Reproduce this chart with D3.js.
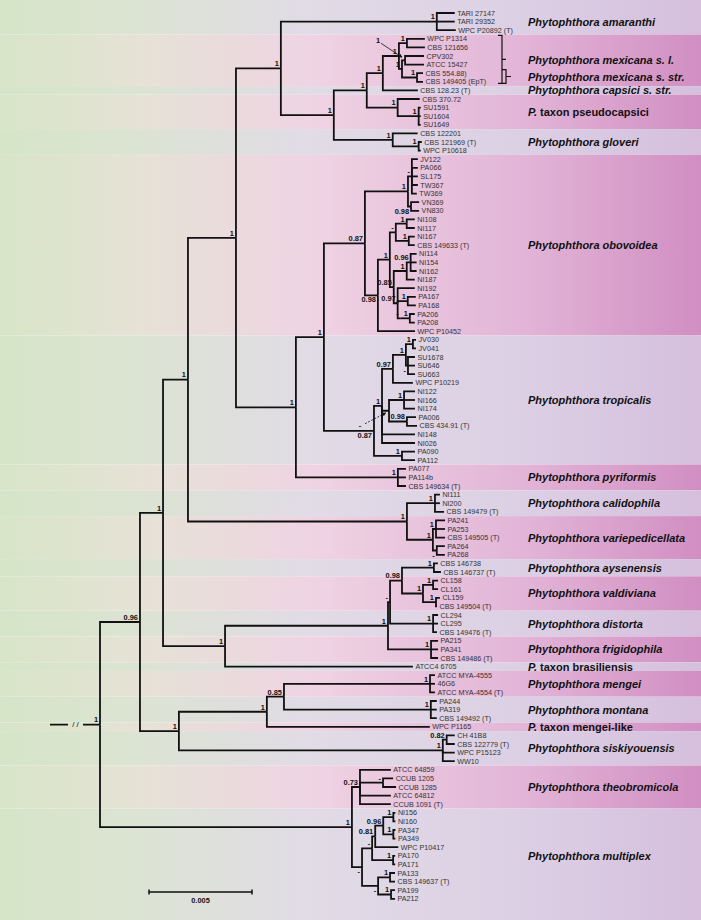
<!DOCTYPE html>
<html><head><meta charset="utf-8">
<script src="https://cdn.jsdelivr.net/npm/d3@7"></script>
<style>body{margin:0;background:#fff}svg{display:block}</style>
</head><body>
<svg id="chart" width="701" height="920"></svg>
<script>
// ---------------- DATA ----------------
// [node id, parent id, branch length (subst./site), posterior support]
const treeEdges = [
 ["R","",0,"1"],
 ["B","R",0.00194,"0.96"],
 ["C","B",0.00112,"1"],
 ["G","C",0.00121,"1"],
 ["H","G",0.00233,"1"],
 ["A","H",0.00218,"1"],
 ["AM","A",0.00757,"1"],
 ["TARI 27147","AM",0.00087,""],
 ["TARI 29352","AM",0.00087,""],
 ["WPC P20892 (T)","AM",0.00092,""],
 ["L","A",0.00257,"1"],
 ["N","L",0.0016,"1"],
 ["O","N",0.00078,"1"],
 ["P","O",0.00078,"1"],
 ["P1a","P",0.00039,"1"],
 ["WPC P1314","P1a",0.00087,""],
 ["CBS 121656","P1a",0.00087,""],
 ["X","P",0.00015,"1"],
 ["CA","X",0.00015,"1"],
 ["CPV302","CA",0.00092,""],
 ["ATCC 15427","CA",0.00092,""],
 ["P2","X",0.00073,"1"],
 ["CBS 554.88)","P2",0.00029,""],
 ["CBS 149405 (EpT)","P2",0.00029,""],
 ["CBS 128.23 (T)","O",0.0017,""],
 ["PS","N",0.0015,"1"],
 ["CBS 370.72","PS",0.00107,""],
 ["SUa","PS",0.00102,"1"],
 ["SU1591","SUa",0.0001,""],
 ["SU1604","SUa",0.0001,""],
 ["SU1649","SUa",0.0001,""],
 ["GL","L",0.00286,"1"],
 ["CBS 122201","GL",0.00121,""],
 ["GL2","GL",0.00126,"1"],
 ["CBS 121969 (T)","GL2",0.00015,""],
 ["WPC P10618","GL2",0.0001,""],
 ["I","H",0.00291,"1"],
 ["J","I",0.00136,"1"],
 ["K","J",0.00199,"0.87"],
 ["K1","K",0.00209,"1"],
 ["K1a","K1",0.00019,"-"],
 ["JV122","K1a",0.00029,""],
 ["PA066","K1a",0.00029,""],
 ["SL175","K1a",0.00029,""],
 ["TW367","K1a",0.00029,""],
 ["TW369","K1a",0.00024,""],
 ["K1b","K1",0.00015,"0.98"],
 ["VN369","K1b",0.00039,""],
 ["VN830","K1b",0.00039,""],
 ["K2","K",0.00063,"0.98"],
 ["K3","K2",0.00058,"1"],
 ["K3a","K3",0.00029,"-"],
 ["NA","K3a",0.00053,"1"],
 ["NI108","NA",0.00039,""],
 ["NI117","NA",0.00039,""],
 ["NB","K3a",0.00063,"1"],
 ["NI167","NB",0.00029,""],
 ["CBS 149633 (T)","NB",0.00029,""],
 ["K3b","K3",0.00019,"0.85"],
 ["K3b1","K3b",0.00063,"1"],
 ["NC","K3b1",0.00019,"0.96"],
 ["NI114","NC",0.00029,""],
 ["NI154","NC",0.00029,""],
 ["NI162","NC",0.00029,""],
 ["NI187","K3b1",0.00039,""],
 ["K3b2","K3b",0.00019,"0.97"],
 ["NI192","K3b2",0.00083,""],
 ["ND","K3b2",0.00049,"1"],
 ["PA167","ND",0.00039,""],
 ["PA168","ND",0.00039,""],
 ["S","K3b2",0.00015,"-"],
 ["NE","S",0.00044,"1"],
 ["PA206","NE",0.00024,""],
 ["PA208","NE",0.00024,""],
 ["WPC P10452","K2",0.0018,""],
 ["U","J",0.00243,"0.87"],
 ["U1","U",0.00039,"1"],
 ["V1","U1",0.00053,"0.97"],
 ["V1a","V1",0.00063,"1"],
 ["JVp","V1a",0.00034,"1"],
 ["JV030","JVp",0.00015,""],
 ["JV041","JVp",0.00015,""],
 ["SUn","V1a",0.0001,"-"],
 ["SU1678","SUn",0.00034,""],
 ["SU646","SUn",0.00034,""],
 ["SU663","SUn",0.00034,""],
 ["WPC P10219","V1",0.00097,""],
 ["W","U1",0.00034,"-"],
 ["W1","W",0.00073,"1"],
 ["NI122","W1",0.00053,""],
 ["NI166","W1",0.00053,""],
 ["NI174","W1",0.00053,""],
 ["W2","W",0.00087,"0.98"],
 ["PA006","W2",0.00044,""],
 ["CBS 434.91 (T)","W2",0.00049,""],
 ["NI148","U1",0.0016,""],
 ["NI026","U1",0.0016,""],
 ["PAn","U",0.00136,"1"],
 ["PA090","PAn",0.00063,""],
 ["PA112","PAn",0.00063,""],
 ["PY","I",0.00495,"1"],
 ["PA077","PY",0.00039,""],
 ["PA114b","PY",0.00039,""],
 ["CBS 149634 (T)","PY",0.00039,""],
 ["CV","G",0.01063,"1"],
 ["CA2","CV",0.00136,"1"],
 ["NI111","CA2",0.00024,""],
 ["NI200","CA2",0.00024,""],
 ["CBS 149479 (T)","CA2",0.00044,""],
 ["VP","CV",0.00126,"1"],
 ["VP1","VP",0.00015,"1"],
 ["PA241","VP1",0.00044,""],
 ["PA253","VP1",0.00044,""],
 ["CBS 149505 (T)","VP1",0.00044,""],
 ["VP2","VP",0.00019,"-"],
 ["PA264","VP2",0.00039,""],
 ["PA268","VP2",0.00039,""],
 ["F","C",0.00301,"1"],
 ["D","F",0.00791,"1"],
 ["E","D",0.0001,"-"],
 ["Q98","E",0.00058,"0.98"],
 ["AY","Q98",0.00155,"1"],
 ["CBS 146738","AY",0.00019,""],
 ["CBS 146737 (T)","AY",0.00034,""],
 ["VA","Q98",0.00102,"1"],
 ["VAa","VA",0.00049,"1"],
 ["CL158","VAa",0.00024,""],
 ["CL161","VAa",0.00024,""],
 ["VAb","VA",0.00063,"1"],
 ["CL159","VAb",0.00019,""],
 ["CBS 149504 (T)","VAb",0.00005,""],
 ["DI","E",0.00209,"1"],
 ["CL294","DI",0.00024,""],
 ["CL295","DI",0.00024,""],
 ["CBS 149476 (T)","DI",0.00019,""],
 ["FR","D",0.00209,"1"],
 ["PA215","FR",0.00034,""],
 ["PA341","FR",0.00034,""],
 ["CBS 149486 (T)","FR",0.00034,""],
 ["ATCC4 6705","F",0.00912,""],
 ["M","B",0.00189,"1"],
 ["M1","M",0.00427,"1"],
 ["M2","M1",0.00083,"0.85"],
 ["MG","M2",0.00709,"1"],
 ["ATCC MYA-4555","MG",0.00024,""],
 ["46G6","MG",0.00024,""],
 ["ATCC MYA-4554 (T)","MG",0.00024,""],
 ["MO","M2",0.00713,"1"],
 ["PA244","MO",0.00029,""],
 ["PA319","MO",0.00029,""],
 ["CBS 149492 (T)","MO",0.00029,""],
 ["WPC P1165","M1",0.00791,""],
 ["SK","M",0.01281,"1"],
 ["SK2","SK",0.00019,"0.82"],
 ["CH 41B8","SK2",0.00039,""],
 ["CBS 122779 (T)","SK2",0.00039,""],
 ["WPC P15123","SK",0.00058,""],
 ["WW10","SK",0.00058,""],
 ["T","R",0.01223,"1"],
 ["TH","T",0.00039,"0.73"],
 ["ATCC 64859","TH",0.0015,""],
 ["CC","TH",0.00112,"-"],
 ["CCUB 1205","CC",0.00049,""],
 ["CCUB 1285","CC",0.00063,""],
 ["ATCC 64812","TH",0.0015,""],
 ["CCUB 1091 (T)","TH",0.0015,""],
 ["MP","T",0.00049,"-"],
 ["MPa","MP",0.00049,"-"],
 ["MPa1","MPa",0.00015,"0.81"],
 ["MPa1a","MPa1",0.00039,"0.96"],
 ["NIp","MPa1a",0.00049,"1"],
 ["NI156","NIp",0.0001,""],
 ["NI160","NIp",0.0001,""],
 ["PAp","MPa1a",0.00049,"1"],
 ["PA347","PAp",0.0001,""],
 ["PA349","PAp",0.0001,""],
 ["WPC P10417","MPa1",0.00112,""],
 ["PAc","MPa",0.00102,"1"],
 ["PA170","PAc",0.0001,""],
 ["PA171","PAc",0.0001,""],
 ["MPb","MP",0.00078,"-"],
 ["PAq","MPb",0.00058,"1"],
 ["PA133","PAq",0.00024,""],
 ["CBS 149637 (T)","PAq",0.00024,""],
 ["PAr","MPb",0.00063,"1"],
 ["PA199","PAr",0.00019,""],
 ["PA212","PAr",0.00019,""]
];

const cladeNames = [
 "Phytophthora amaranthi","Phytophthora mexicana s. l.","Phytophthora capsici s. str.",
 "P. taxon pseudocapsici","Phytophthora gloveri","Phytophthora obovoidea","Phytophthora tropicalis",
 "Phytophthora pyriformis","Phytophthora calidophila","Phytophthora variepedicellata",
 "Phytophthora aysenensis","Phytophthora valdiviana","Phytophthora distorta","Phytophthora frigidophila",
 "P. taxon brasiliensis","Phytophthora mengei","Phytophthora montana","P. taxon mengei-like",
 "Phytophthora siskiyouensis","Phytophthora theobromicola","Phytophthora multiplex"
];
const cladeFirstLeaf = ["TARI 27147","WPC P1314","CBS 128.23 (T)","CBS 370.72","CBS 122201","JV122","JV030",
 "PA077","NI111","PA241","CBS 146738","CL158","CL294","PA215","ATCC4 6705","ATCC MYA-4555","PA244",
 "WPC P1165","CH 41B8","ATCC 64859","NI156"];
const cladeLastLeaf = ["WPC P20892 (T)","CBS 149405 (EpT)","CBS 128.23 (T)","SU1649","WPC P10618","WPC P10452",
 "PA112","CBS 149634 (T)","CBS 149479 (T)","PA268","CBS 146737 (T)","CBS 149504 (T)","CBS 149476 (T)",
 "CBS 149486 (T)","ATCC4 6705","ATCC MYA-4554 (T)","CBS 149492 (T)","WPC P1165","WW10","CCUB 1091 (T)","PA212"];
const subCladeNames = ["Phytophthora mexicana s. str."];
const subCladeFirstLeaf = ["CBS 554.88)"];
const subCladeLastLeaf = ["CBS 149405 (EpT)"];
const scaleBarValue = 0.005;

// ---------------- STYLE / PLACEMENT CONFIG ----------------
const W = 701, H = 920;
const belowLabelNodes = new Set(["K1b","K2","U","SUn","VP2","MP","MPb"]);
const arrowLabelNodes = [
  {id:"CA", lx:-27, ly:-20, ax0:-24, ay0:-17, ax1:-3, ay1:-3, dashed:false},
  {id:"W", lx:-29, ly:15, ax0:-24, ay0:13, ax1:-3, ay1:2, dashed:true}
];

const svg = d3.select("#chart");
const defs = svg.append("defs");
function grad(id, stops){
  const g = defs.append("linearGradient").attr("id", id).attr("gradientUnits","userSpaceOnUse")
    .attr("x1",0).attr("x2",W).attr("y1",0).attr("y2",0);
  stops.forEach(([o,c]) => g.append("stop").attr("offset",o).attr("stop-color",c));
}
grad("gLav", [[0,"#d5e5c7"],[0.2,"#dce3d3"],[0.45,"#e1dbe6"],[0.75,"#dccfe4"],[1,"#d5bfdd"]]);
grad("gPink",[[0,"#d7e5c7"],[0.2,"#e6e2d6"],[0.45,"#efd3e3"],[0.75,"#e2b4d7"],[1,"#d18ec2"]]);
defs.append("marker").attr("id","arr").attr("viewBox","0 0 10 10").attr("refX",9).attr("refY",5)
  .attr("markerWidth",5).attr("markerHeight",5).attr("orient","auto")
  .append("path").attr("d","M0,0L10,5L0,10z").attr("fill","#111");

// ---------------- LAYOUT ----------------
const root = d3.stratify().id(d => d[0]).parentId(d => d[1] || null)(treeEdges);
root.eachBefore(n => { n.dist = n.parent ? n.parent.dist + n.data[2] : 0; });
const leaves = root.leaves();
const x = d3.scaleLinear().domain([0, scaleBarValue]).range([100, 203]);
const y = d3.scaleLinear().domain([0, leaves.length - 1]).range([13, 898.8]);
leaves.forEach((l, i) => { l.py = y(i); });
root.eachAfter(n => {
  n.px = x(n.dist);
  if (n.children) n.py = (n.children[0].py + n.children[n.children.length-1].py) / 2;
});
const byId = new Map(root.descendants().map(n => [n.id, n]));
const leafY = id => byId.get(id).py;

// ---------------- BANDS ----------------
const bands = svg.append("g");
cladeNames.forEach((name, i) => {
  const y0 = i === 0 ? 0 : (leafY(cladeLastLeaf[i-1]) + leafY(cladeFirstLeaf[i])) / 2;
  const y1 = i === cladeNames.length-1 ? H : (leafY(cladeLastLeaf[i]) + leafY(cladeFirstLeaf[i+1])) / 2;
  bands.append("rect").attr("x",0).attr("y",y0).attr("width",W).attr("height",y1-y0)
    .attr("fill", i % 2 ? "url(#gPink)" : "url(#gLav)");
});

// ---------------- BRANCHES ----------------
const g = svg.append("g").attr("fill","none").attr("stroke","#111").attr("stroke-width",1.8);
root.descendants().filter(n => n.parent).forEach(n => {
  g.append("path").attr("d", `M${n.parent.px},${n.parent.py}V${n.py}H${n.px}`);
});
// root stem with break
g.append("path").attr("d", `M50,${root.py}H68M83,${root.py}H${root.px}`);
svg.append("text").attr("x",75.5).attr("y",root.py).attr("dy","0.35em").attr("text-anchor","middle")
  .attr("font-family","Liberation Sans, Arial, sans-serif").attr("font-size",8).attr("fill","#111").text("/ /");

// ---------------- LEAF LABELS ----------------
svg.append("g").attr("font-family","Liberation Sans, Arial, sans-serif").attr("font-size",7.2).attr("fill","#333")
  .selectAll("text").data(leaves).join("text")
  .attr("x", d => d.px + 2.5).attr("y", d => d.py).attr("dy","0.36em").text(d => d.id);

// ---------------- SUPPORT LABELS ----------------
const arrowIds = new Set(arrowLabelNodes.map(a => a.id));
const sg = svg.append("g").attr("font-family","Liberation Sans, Arial, sans-serif").attr("font-size",7.4)
  .attr("font-weight","bold").attr("fill","#111");
root.descendants().filter(n => n.children && n.data[3] && !arrowIds.has(n.id)).forEach(n => {
  sg.append("text").attr("x", n.px - 2).attr("y", belowLabelNodes.has(n.id) ? n.py + 7 : n.py - 2.2)
    .attr("text-anchor","end").text(n.data[3]);
});
arrowLabelNodes.forEach(a => {
  const n = byId.get(a.id);
  sg.append("text").attr("x", n.px + a.lx).attr("y", n.py + a.ly).attr("dy","0.35em")
    .attr("text-anchor","middle").text(n.data[3]);
  svg.append("line").attr("x1", n.px + a.ax0).attr("y1", n.py + a.ay0)
    .attr("x2", n.px + a.ax1).attr("y2", n.py + a.ay1).attr("stroke","#111").attr("stroke-width",0.8)
    .attr("stroke-dasharray", a.dashed ? "2,1.5" : null).attr("marker-end","url(#arr)");
});

// ---------------- CLADE LABELS ----------------
const lg = svg.append("g").attr("font-family","Liberation Sans, Arial, sans-serif").attr("font-size",11)
  .attr("font-weight","bold").attr("fill","#111");
function cladeText(name, yy){
  const t = lg.append("text").attr("x",528).attr("y",yy).attr("dy","0.36em");
  if (name.startsWith("P. ")) {
    t.append("tspan").attr("font-style","italic").text("P.");
    t.append("tspan").text(name.slice(2));
  } else t.attr("font-style","italic").text(name);
}
cladeNames.forEach((name, i) => cladeText(name, (leafY(cladeFirstLeaf[i]) + leafY(cladeLastLeaf[i])) / 2));
subCladeNames.forEach((name, i) => cladeText(name, (leafY(subCladeFirstLeaf[i]) + leafY(subCladeLastLeaf[i])) / 2));

// brackets for mexicana
const bk = svg.append("g").attr("fill","none").attr("stroke","#111").attr("stroke-width",1.2);
function bracket(first, last, bx, tick){
  const y0 = leafY(first) - 3.5, y1 = leafY(last) + 1.5, ym = (y0 + y1) / 2;
  bk.append("path").attr("d", `M${bx-4},${y0}H${bx}V${y1}H${bx-4}M${bx},${ym}H${bx+tick}`);
}
bracket(cladeFirstLeaf[1], cladeLastLeaf[1], 502, 4);
bracket(subCladeFirstLeaf[0], subCladeLastLeaf[0], 506, 5);

// ---------------- SCALE BAR ----------------
const sbx0 = 149, sbx1 = sbx0 + (x(scaleBarValue) - x(0)), sby = 892;
svg.append("path").attr("d", `M${sbx0},${sby}H${sbx1}M${sbx0},${sby-2.5}V${sby+2.5}M${sbx1},${sby-2.5}V${sby+2.5}`)
  .attr("stroke","#111").attr("stroke-width",1.5).attr("fill","none");
svg.append("text").attr("x",(sbx0+sbx1)/2).attr("y",903).attr("text-anchor","middle")
  .attr("font-family","Liberation Sans, Arial, sans-serif").attr("font-size",7.4).attr("font-weight","bold")
  .attr("fill","#111").text(scaleBarValue);
</script>
</body></html>
